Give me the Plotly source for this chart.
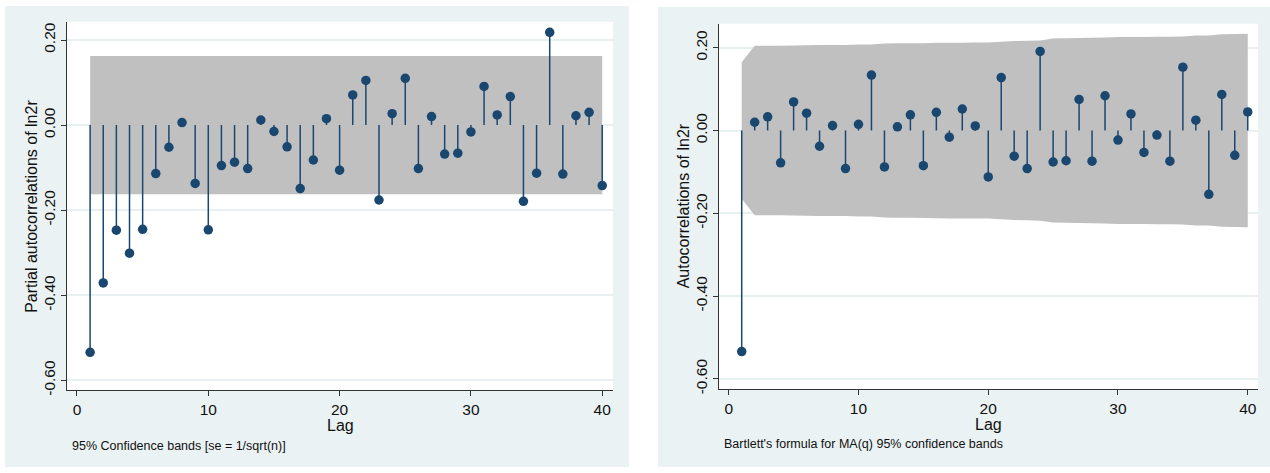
import plotly.graph_objects as go

lags = list(range(1, 41))

pacf_vals = [-0.534, -0.371, -0.247, -0.301, -0.245, -0.114, -0.052, 0.006, -0.137, -0.246,
             -0.095, -0.087, -0.102, 0.012, -0.015, -0.051, -0.149, -0.082, 0.015, -0.106,
             0.071, 0.105, -0.176, 0.027, 0.110, -0.102, 0.020, -0.068, -0.066, -0.016,
             0.091, 0.024, 0.067, -0.179, -0.113, 0.218, -0.115, 0.022, 0.030, -0.142]
pacf_band = [0.1625] * 40

acf_vals = [-0.534, 0.020, 0.033, -0.078, 0.069, 0.042, -0.038, 0.012, -0.092, 0.015,
            0.134, -0.088, 0.009, 0.038, -0.085, 0.044, -0.016, 0.052, 0.011, -0.112,
            0.128, -0.062, -0.092, 0.191, -0.076, -0.073, 0.075, -0.074, 0.084, -0.023,
            0.040, -0.053, -0.011, -0.074, 0.153, 0.025, -0.154, 0.087, -0.060, 0.045]
acf_band = [0.165, 0.2045, 0.2046, 0.2047, 0.2054, 0.2060, 0.2063, 0.2065, 0.2065, 0.2076,
            0.2076, 0.2099, 0.2108, 0.2108, 0.2110, 0.2119, 0.2122, 0.2122, 0.2126, 0.2126,
            0.2142, 0.2162, 0.2167, 0.2177, 0.2222, 0.2228, 0.2234, 0.2241, 0.2247, 0.2256,
            0.2256, 0.2258, 0.2262, 0.2262, 0.2268, 0.2295, 0.2296, 0.2324, 0.2333, 0.2337]

x_ticks = [0, 10, 20, 30, 40]
y_ticks = [-0.6, -0.4, -0.2, 0.0, 0.2]
y_ticklabels = ["-0.60", "-0.40", "-0.20", "0.00", "0.20"]

W, H = 1270, 473
NAVY = "#1a476f"
BAND = "#c0c0c0"
BG = "#eaf2f3"
GRID = "#e8f0f2"
FONT = "Liberation Sans, Arial, sans-serif"

fig = go.Figure()


def add_panel(vals, band, xa, ya):
    # band
    bx = lags + lags[::-1]
    by = band + [-b for b in band[::-1]]
    fig.add_trace(go.Scatter(x=bx, y=by, fill="toself", fillcolor=BAND, mode="none",
                             line=dict(width=0), hoverinfo="skip", showlegend=False,
                             xaxis=xa, yaxis=ya))
    # spikes
    sx, sy = [], []
    for l, v in zip(lags, vals):
        sx += [l, l, None]
        sy += [0, v, None]
    fig.add_trace(go.Scatter(x=sx, y=sy, mode="lines", line=dict(color=NAVY, width=1.5),
                             hoverinfo="skip", showlegend=False, xaxis=xa, yaxis=ya))
    fig.add_trace(go.Scatter(x=lags, y=vals, mode="markers",
                             marker=dict(color=NAVY, size=9.5, line=dict(width=0)),
                             showlegend=False, xaxis=xa, yaxis=ya))


add_panel(pacf_vals, pacf_band, "x", "y")
add_panel(acf_vals, acf_band, "x2", "y2")


def px(x):
    return x / W


def py(y):
    return 1 - y / H


axis_common = dict(showline=True, linecolor="#333333", linewidth=1, ticks="outside",
                   ticklen=5, tickcolor="#333333", tickfont=dict(family=FONT, size=15.5, color="#111"),
                   zeroline=False)

fig.update_layout(
    width=W, height=H,
    margin=dict(l=0, r=0, t=0, b=0),
    paper_bgcolor="white", plot_bgcolor="white",
    font=dict(family=FONT, color="#111"),
    xaxis=dict(domain=[px(67), px(613)], range=[-0.76, 40.82], tickvals=x_ticks,
               showgrid=False, anchor="y", **axis_common),
    yaxis=dict(domain=[py(395), py(22)], range=[-0.6225, 0.243], tickvals=y_ticks,
               ticktext=y_ticklabels, tickangle=-90, showgrid=True, gridcolor=GRID,
               gridwidth=1.5, anchor="x", **axis_common),
    xaxis2=dict(domain=[px(719), px(1258)], range=[-0.75, 40.79], tickvals=x_ticks,
                showgrid=False, anchor="y2", **axis_common),
    yaxis2=dict(domain=[py(394.3), py(24)], range=[-0.625, 0.258], tickvals=y_ticks,
                ticktext=y_ticklabels, tickangle=-90, showgrid=True, gridcolor=GRID,
                gridwidth=1.5, anchor="x2", **axis_common),
    shapes=[
        dict(type="rect", xref="paper", yref="paper", x0=px(5), x1=px(629), y0=0, y1=py(6),
             fillcolor=BG, line=dict(width=0), layer="below"),
        dict(type="rect", xref="paper", yref="paper", x0=px(658), x1=1, y0=0, y1=py(7),
             fillcolor=BG, line=dict(width=0), layer="below"),
        dict(type="rect", xref="paper", yref="paper", x0=px(67), x1=px(613), y0=py(395), y1=py(22),
             fillcolor="white", line=dict(width=0), layer="below"),
        dict(type="rect", xref="paper", yref="paper", x0=px(719), x1=px(1258), y0=py(394.3), y1=py(24),
             fillcolor="white", line=dict(width=0), layer="below"),
    ],
    annotations=[
        dict(text="Partial autocorrelations of ln2r", xref="paper", yref="paper",
             x=px(31.5), y=py(209), textangle=-90, showarrow=False,
             font=dict(family=FONT, size=16, color="#111"), xanchor="center", yanchor="middle"),
        dict(text="Autocorrelations of ln2r", xref="paper", yref="paper",
             x=px(683), y=py(209), textangle=-90, showarrow=False,
             font=dict(family=FONT, size=16, color="#111"), xanchor="center", yanchor="middle"),
        dict(text="Lag", xref="paper", yref="paper", x=px(340), y=py(431), showarrow=False,
             font=dict(family=FONT, size=16, color="#111"), xanchor="center", yanchor="middle"),
        dict(text="Lag", xref="paper", yref="paper", x=px(988.5), y=py(430), showarrow=False,
             font=dict(family=FONT, size=16, color="#111"), xanchor="center", yanchor="middle"),
        dict(text="95% Confidence bands [se = 1/sqrt(n)]", xref="paper", yref="paper",
             x=px(70), y=py(452), showarrow=False,
             font=dict(family=FONT, size=12.5, color="#111"), xanchor="left", yanchor="middle"),
        dict(text="Bartlett's formula for MA(q) 95% confidence bands", xref="paper", yref="paper",
             x=px(721.5), y=py(450), showarrow=False,
             font=dict(family=FONT, size=12.5, color="#111"), xanchor="left", yanchor="middle"),
    ],
)

fig.write_html("out.html", config={"displayModeBar": False},
               post_script="document.body.style.margin='0px';document.body.style.overflow='hidden';")
